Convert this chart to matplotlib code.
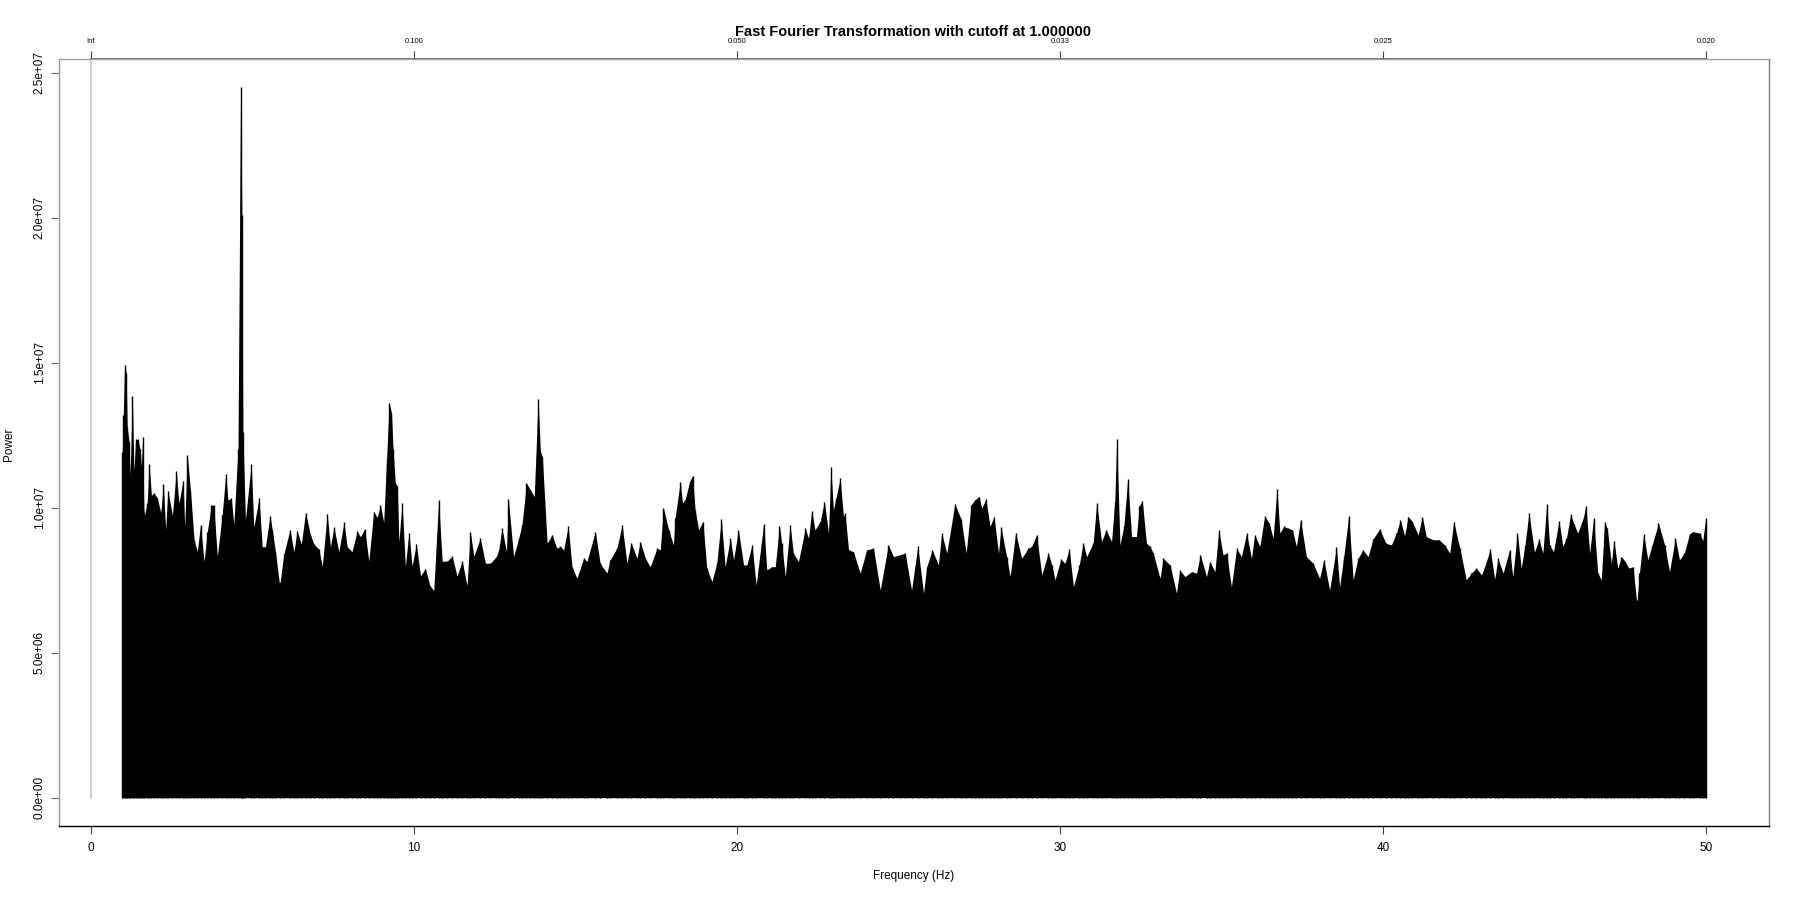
import numpy as np
import matplotlib.pyplot as plt
from matplotlib.ticker import FuncFormatter

plt.rcParams["font.family"] = ["Liberation Sans", "DejaVu Sans"]

TITLE = "Fast Fourier Transformation with cutoff at 1.000000"
X_LABEL = "Frequency (Hz)"
Y_LABEL = "Power"
POWER_UNIT = 1e6  # values below are in millions

freq_ticks = [0, 10, 20, 30, 40, 50]
period_labels = ["Inf", "0.100", "0.050", "0.033", "0.025", "0.020"]
power_ticks = [0, 5e6, 1e7, 1.5e7, 2e7, 2.5e7]

# DC bin, drawn as a grey line
dc_hz = 0.0

# level up to which the spectrum is solid black
floor_hz = [0.98, 1.6, 1.7, 2.3, 3.1, 3.3, 4.0, 4.3, 4.6, 4.8,
            5.3, 5.8, 6.2, 7.5, 8.6, 8.9, 9.15, 9.3, 9.45, 9.7,
            10.0, 11.0, 12.0, 13.0, 13.5, 13.85, 14.1, 14.6, 15.5, 16.5,
            17.5, 18.0, 18.5, 18.9, 19.3, 20.5, 21.8, 22.4, 22.9, 23.3,
            23.8, 25.0, 26.3, 27.0, 27.6, 28.3, 29.0, 30.0, 30.8, 31.7,
            32.3, 32.9, 34.0, 35.2, 36.0, 36.7, 37.4, 38.0, 39.0, 39.8,
            40.7, 41.5, 42.2, 43.0, 44.0, 45.0, 45.8, 46.6, 47.3, 47.9,
            48.5, 49.3, 50.0]
floor_power = [10.3, 10.3, 9.4, 9.0, 8.8, 8.2, 8.0, 8.6, 9.0, 8.6,
               8.2, 7.4, 7.5, 7.4, 7.6, 8.2, 9.8, 10.6, 9.0, 7.8,
               7.1, 7.0, 7.3, 7.4, 8.8, 10.5, 8.4, 7.4, 7.1, 7.2,
               7.2, 8.0, 9.0, 8.0, 7.2, 7.1, 7.2, 8.0, 9.0, 8.4,
               7.2, 7.0, 7.0, 8.0, 8.6, 7.6, 7.1, 7.0, 7.2, 8.2,
               8.1, 7.2, 7.0, 7.0, 7.6, 8.2, 7.8, 7.2, 7.0, 7.6,
               8.0, 7.6, 7.1, 7.2, 7.4, 7.7, 7.9, 7.6, 7.0, 6.8,
               7.4, 7.7, 7.8]

# tops of the individual spectral lines
peak_hz = [
    0.98, 1.01, 1.05, 1.10, 1.13, 1.19, 1.22, 1.29, 1.34, 1.39,
    1.46, 1.53, 1.57, 1.61, 1.65, 1.75, 1.81, 1.88, 1.96, 2.06,
    2.17, 2.25, 2.32, 2.39, 2.53, 2.65, 2.73, 2.86, 2.91, 2.99,
    3.09, 3.20, 3.30, 3.40, 3.51, 3.61, 3.73, 3.81, 3.92, 4.07,
    4.18, 4.25, 4.35, 4.43, 4.56, 4.64, 4.68, 4.71, 4.79, 4.97,
    5.05, 5.21, 5.31, 5.41, 5.55, 5.62, 5.72, 5.85, 5.98, 6.17,
    6.29, 6.39, 6.52, 6.65, 6.80, 6.91, 7.06, 7.17, 7.32, 7.42,
    7.53, 7.68, 7.84, 7.94, 8.09, 8.25, 8.35, 8.48, 8.61, 8.76,
    8.87, 8.97, 9.07, 9.16, 9.24, 9.31, 9.36, 9.43, 9.49, 9.54,
    9.64, 9.74, 9.85, 9.95, 10.08, 10.21, 10.36, 10.50, 10.62, 10.77,
    10.88, 11.03, 11.19, 11.34, 11.50, 11.65, 11.75, 11.86,
    12.06, 12.22, 12.37, 12.56, 12.63, 12.73, 12.87, 12.93, 13.09, 13.25,
    13.35, 13.49, 13.61, 13.73, 13.85, 13.92, 13.98, 14.13, 14.28, 14.43,
    14.54, 14.64, 14.78, 14.90, 15.05, 15.26, 15.36, 15.62, 15.77, 15.98,
    16.08, 16.29, 16.45, 16.60, 16.73, 16.91, 17.01, 17.17, 17.32, 17.53,
    17.63, 17.73, 17.89, 18.04, 18.09, 18.25, 18.32, 18.40, 18.54, 18.63,
    18.71, 18.82, 18.95, 19.07, 19.23, 19.38, 19.52, 19.64, 19.80, 19.90,
    20.05, 20.21, 20.31, 20.47, 20.60, 20.83, 20.93, 21.08, 21.19, 21.32,
    21.39, 21.50, 21.65, 21.75, 21.91, 22.12, 22.22, 22.32, 22.42, 22.58,
    22.71, 22.84, 22.91, 22.99, 23.07, 23.20, 23.30, 23.35, 23.46, 23.61,
    23.82, 24.02, 24.23, 24.44, 24.69, 24.85, 25.05, 25.21, 25.41, 25.60,
    25.78, 25.88, 26.05, 26.24, 26.34, 26.50, 26.75, 26.94, 27.10, 27.25,
    27.37, 27.50, 27.58, 27.71, 27.84, 27.96, 28.10, 28.18, 28.35, 28.46,
    28.63, 28.82, 29.02, 29.13, 29.28, 29.44, 29.64, 29.75, 29.85, 30.03,
    30.16, 30.29, 30.42, 30.60, 30.72, 30.83, 31.03, 31.14, 31.29, 31.43,
    31.60, 31.70, 31.76, 31.86, 31.98, 32.10, 32.22, 32.37, 32.46, 32.55,
    32.68, 32.79, 32.89, 33.10, 33.20, 33.41, 33.61, 33.71, 33.87, 34.08,
    34.23, 34.35, 34.54, 34.64, 34.80, 34.92, 35.05, 35.16, 35.31, 35.47,
    35.62, 35.78, 35.93, 36.03, 36.19, 36.34, 36.48, 36.60, 36.72, 36.81,
    36.93, 37.07, 37.20, 37.32, 37.45, 37.63, 37.84, 38.04, 38.17, 38.35,
    38.56, 38.66, 38.79, 38.94, 39.08, 39.23, 39.38, 39.54, 39.69, 39.90,
    40.09, 40.26, 40.42, 40.54, 40.67, 40.78, 40.91, 41.09, 41.22, 41.34,
    41.55, 41.74, 41.91, 42.07, 42.19, 42.38, 42.58, 42.74, 42.89,
    43.05, 43.15, 43.32, 43.46, 43.56, 43.72, 43.92, 44.02, 44.16, 44.28,
    44.39, 44.52, 44.69, 44.83, 44.95, 45.07, 45.16, 45.28, 45.45, 45.57,
    45.68, 45.81, 45.91, 46.03, 46.21, 46.28, 46.40, 46.52, 46.65, 46.76,
    46.86, 46.94, 47.07, 47.15, 47.27, 47.38, 47.50, 47.61, 47.74, 47.86,
    47.94, 48.07, 48.20, 48.32, 48.53, 48.72, 48.87, 49.05, 49.18, 49.33,
    49.49, 49.59, 49.80, 49.90, 49.99,
]
peak_power = [
    11.93, 13.19, 14.92, 14.65, 12.77, 12.26, 11.09, 13.86, 11.26, 12.35,
    12.35, 12.01, 11.42, 12.43, 9.66, 10.16, 11.51, 10.42, 10.50, 10.33,
    9.83, 10.80, 9.24, 10.58, 9.74, 11.26, 10.16, 10.92, 9.32, 11.81,
    10.58, 8.90, 8.48, 9.41, 8.15, 9.16, 10.08, 10.08, 8.32, 9.74,
    11.17, 10.25, 10.33, 9.41, 12.01, 24.49, 20.08, 12.60, 9.58, 11.51,
    9.32, 10.33, 8.65, 8.65, 9.71, 9.24, 8.48, 7.31, 8.40, 9.24,
    8.48, 9.19, 8.74, 9.83, 9.07, 8.74, 8.57, 7.98, 9.79, 8.65,
    9.32, 8.48, 9.49, 8.65, 8.48, 9.19, 8.99, 9.27, 8.15, 9.86,
    9.66, 10.08, 9.49, 11.68, 13.61, 13.27, 12.01, 10.84, 10.75, 8.82,
    10.16, 7.98, 9.12, 7.98, 8.74, 7.64, 7.90, 7.31, 7.14, 10.25,
    8.15, 8.15, 8.32, 7.64, 8.15, 7.31, 9.16, 8.32,
    8.94, 8.08, 8.08, 8.31, 8.54, 9.29, 8.48, 10.29, 8.31, 8.94,
    9.40, 10.84, 10.61, 10.38, 13.74, 11.93, 11.76, 8.77, 9.06, 8.60,
    8.66, 8.54, 9.35, 7.96, 7.56, 8.25, 8.14, 9.17, 8.08, 7.74,
    8.20, 8.60, 9.40, 8.08, 8.79, 8.25, 8.83, 8.25, 7.96, 8.60,
    8.54, 9.98, 9.23, 8.71, 9.63, 10.90, 10.15, 10.27, 10.90, 11.10,
    9.92, 9.23, 9.52, 7.91, 7.45, 8.08, 9.60, 7.96, 8.94, 8.20,
    9.23, 8.02, 8.02, 8.71, 7.33, 9.44, 7.85, 7.96, 7.96, 9.38,
    8.77, 7.62, 9.40, 8.43, 8.14, 9.29, 8.94, 9.90, 9.23, 9.52,
    10.21, 9.12, 11.39, 9.92, 10.32, 11.01, 9.69, 9.81, 8.54, 8.48,
    7.74, 8.54, 8.60, 7.16, 8.71, 8.31, 8.37, 8.43, 7.16, 8.66,
    7.05, 7.96, 8.54, 8.02, 9.12, 8.43, 10.13, 9.61, 8.43, 10.09,
    10.27, 10.38, 9.98, 10.29, 9.35, 9.69, 8.43, 9.32, 8.31, 7.62,
    9.12, 8.25, 8.60, 8.66, 9.06, 7.68, 8.43, 8.02, 7.51, 8.22,
    8.08, 8.56, 7.27, 8.02, 8.77, 8.31, 8.77, 10.15, 8.83, 9.23,
    8.83, 10.21, 12.36, 8.71, 9.35, 10.99, 9.00, 9.00, 10.06, 10.24,
    8.77, 8.66, 8.43, 7.56, 8.25, 8.02, 7.05, 7.85, 7.62, 7.79,
    7.74, 8.37, 7.62, 8.14, 7.79, 9.23, 8.37, 8.43, 7.27, 8.60,
    8.31, 9.12, 8.25, 9.06, 8.66, 9.71, 9.46, 8.94, 10.65, 9.12,
    9.35, 9.29, 9.23, 8.66, 9.58, 8.31, 8.08, 7.56, 8.20, 7.16,
    8.63, 7.27, 8.33, 9.71, 7.51, 8.25, 8.54, 8.31, 8.91, 9.26,
    8.77, 8.71, 9.12, 9.58, 9.03, 9.69, 9.52, 9.06, 9.69, 9.00,
    8.89, 8.89, 8.71, 8.43, 9.52, 8.60, 7.51, 7.74, 7.91,
    7.68, 7.96, 8.56, 7.53, 8.25, 7.74, 8.54, 7.62, 9.14, 7.91,
    8.66, 9.81, 8.46, 8.91, 8.43, 10.12, 8.71, 8.48, 9.54, 8.66,
    8.94, 9.77, 9.44, 9.12, 9.67, 10.07, 8.43, 9.63, 7.74, 7.51,
    9.50, 9.29, 8.08, 8.86, 7.91, 8.31, 8.14, 7.91, 7.96, 6.70,
    7.74, 9.09, 8.20, 8.66, 9.46, 8.71, 7.79, 8.94, 8.20, 8.43,
    9.09, 9.17, 9.12, 8.86, 9.63,
]


def r_limits(lo, hi, frac=0.04):
    # R's default 4% axis extension
    pad = (hi - lo) * frac
    return lo - pad, hi + pad


def main() -> None:
    floor_p = np.asarray(floor_power) * POWER_UNIT
    peak_p = np.asarray(peak_power) * POWER_UNIT

    fig = plt.figure(figsize=(18, 9), dpi=100)
    ax = fig.add_axes([59 / 1800, 74 / 900, 1710 / 1800, 767 / 900])

    # solid body of the spectrum, the jagged band joining the line tops,
    # and the individual lines on top
    ax.fill_between(floor_hz, 0, floor_p, color="black", linewidth=0)
    ax.fill_between(peak_hz, 0, peak_p, color="black", linewidth=0)
    ax.vlines(peak_hz, 0, peak_p, color="black", linewidth=1.0)

    xlim = r_limits(min(peak_hz), max(peak_hz))
    ylim = r_limits(0, peak_p.max())
    ax.set_xlim(*xlim)
    ax.set_ylim(*ylim)

    ax.axvline(dc_hz, ymin=(0 - ylim[0]) / (ylim[1] - ylim[0]), ymax=1,
               color="#c8c8c8", linewidth=1.2)

    # bottom axis
    ax.set_xticks(freq_ticks, labels=[str(t) for t in freq_ticks])
    ax.tick_params(axis="x", direction="out", length=5.5, width=0.8,
                   color="#444444", labelsize=8.5, pad=6)

    # left axis, rotated labels like R
    ax.set_yticks(power_ticks)
    ax.yaxis.set_major_formatter(FuncFormatter(lambda v, p: f"{v:.1e}"))
    ax.tick_params(axis="y", direction="out", length=5.5, width=0.8,
                   color="#666666", labelsize=8.5, pad=4, labelrotation=90)
    plt.setp(ax.get_yticklabels(), va="center")

    # top axis: period = 1 / frequency
    top = ax.secondary_xaxis("top")
    top.set_xticks(freq_ticks, labels=period_labels)
    top.tick_params(direction="out", length=6, width=0.8, color="#444444",
                    labelsize=5.5, pad=4)
    top.spines["top"].set_bounds(freq_ticks[0], freq_ticks[-1])
    top.spines["top"].set_color("#555555")
    top.spines["top"].set_linewidth(1.2)

    ax.spines["bottom"].set_color("black")
    ax.spines["bottom"].set_linewidth(1.0)
    ax.spines["left"].set_color("#999999")
    ax.spines["right"].set_color("#777777")
    ax.spines["top"].set_color("#a0a0a0")
    for side in ["left", "right", "top"]:
        ax.spines[side].set_linewidth(1.0)

    fig.text(0.5075, 1 - 32 / 900, TITLE, ha="center", va="center",
             fontsize=10.5, fontweight="bold")
    fig.text(0.5075, 1 - 876 / 900, X_LABEL, ha="center", va="center",
             fontsize=8.5)
    fig.text(9 / 1800, 1 - 444 / 900, Y_LABEL, ha="center", va="center",
             rotation=90, fontsize=8.5)

    fig.savefig("out.png", dpi=100, facecolor="white")
    plt.close(fig)


if __name__ == "__main__":
    main()
